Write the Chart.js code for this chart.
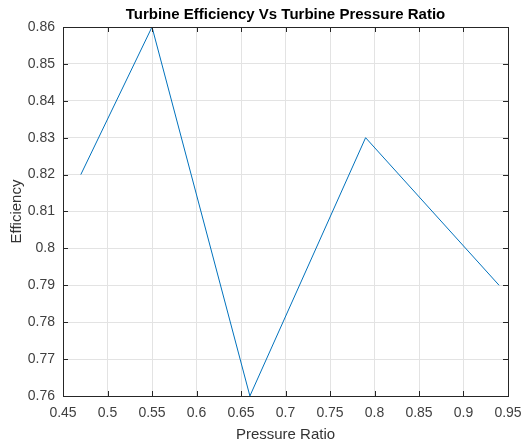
<!DOCTYPE html>
<html>
<head>
<meta charset="utf-8">
<script src="https://cdn.jsdelivr.net/npm/chart.js@4/dist/chart.umd.min.js"></script>
<style>
  html, body { margin: 0; padding: 0; background: #fff; }
  #wrap { width: 527px; height: 445px; }
</style>
</head>
<body>
<div id="wrap"><canvas id="c" width="527" height="445"></canvas></div>
<script>
// Measured turbine performance
const pressureRatio = [0.47, 0.55, 0.66, 0.79, 0.94];
const efficiency    = [0.82, 0.86, 0.76, 0.83, 0.79];

// Axis ranges and tick spacing
const xRange = [0.45, 0.95];
const xStep = 0.05;
const yRange = [0.76, 0.86];
const yStep = 0.01;

const titleText = 'Turbine Efficiency Vs Turbine Pressure Ratio';
const xLabel = 'Pressure Ratio';
const yLabel = 'Efficiency';

const FONT = "'Liberation Sans', Arial, Helvetica, sans-serif";
const AXIS_COLOR = '#262626';
const TICK_LEN = 5;

const fmt = v => String(parseFloat(Number(v).toFixed(2)));

// Boxed axes with inward tick marks on all four sides, title centred over the plot box
const boxAxes = {
  id: 'boxAxes',
  afterDraw(chart) {
    const { ctx, chartArea: a, scales } = chart;
    ctx.save();
    ctx.strokeStyle = AXIS_COLOR;
    ctx.lineWidth = 1;
    ctx.beginPath();
    scales.x.ticks.forEach(t => {
      const px = Math.round(scales.x.getPixelForValue(t.value)) + 0.5;
      ctx.moveTo(px, a.bottom); ctx.lineTo(px, a.bottom - TICK_LEN);
      ctx.moveTo(px, a.top); ctx.lineTo(px, a.top + TICK_LEN);
    });
    scales.y.ticks.forEach(t => {
      const py = Math.round(scales.y.getPixelForValue(t.value)) + 0.5;
      ctx.moveTo(a.left, py); ctx.lineTo(a.left + TICK_LEN, py);
      ctx.moveTo(a.right, py); ctx.lineTo(a.right - TICK_LEN, py);
    });
    ctx.stroke();
    ctx.strokeRect(Math.round(a.left) + 0.5, Math.round(a.top) + 0.5,
                   Math.round(a.right - a.left), Math.round(a.bottom - a.top));

    ctx.fillStyle = '#000';
    ctx.font = 'bold 15px ' + FONT;
    ctx.textAlign = 'center';
    ctx.textBaseline = 'middle';
    ctx.fillText(titleText, (a.left + a.right) / 2, 15);
    ctx.restore();
  }
};

new Chart(document.getElementById('c'), {
  type: 'line',
  data: {
    datasets: [{
      data: pressureRatio.map((x, i) => ({ x, y: efficiency[i] })),
      borderColor: '#0072BD',
      borderWidth: 1,
      pointRadius: 0,
      tension: 0,
      fill: false,
      clip: false
    }]
  },
  options: {
    responsive: false,
    animation: false,
    devicePixelRatio: 1,
    layout: { padding: { left: 0, right: 19, top: 27, bottom: 0 } },
    plugins: {
      legend: { display: false },
      tooltip: { enabled: false },
      title: { display: false }
    },
    scales: {
      x: {
        type: 'linear',
        min: xRange[0], max: xRange[1],
        afterFit(s) { s.height = 49; s.paddingRight = 0; },
        ticks: {
          stepSize: xStep,
          color: '#404040',
          font: { family: FONT, size: 14 },
          padding: 9,
          maxRotation: 0,
          autoSkip: false,
          callback: v => fmt(v)
        },
        grid: { color: '#e3e3e3', drawTicks: false },
        border: { display: false },
        title: {
          display: true, text: xLabel, color: '#333',
          font: { family: FONT, size: 15 },
          padding: { top: 2, bottom: 1 }
        }
      },
      y: {
        type: 'linear',
        min: yRange[0], max: yRange[1],
        afterFit(s) { s.width = 63; s.paddingTop = 0; s.paddingBottom = 0; },
        ticks: {
          stepSize: yStep,
          color: '#404040',
          font: { family: FONT, size: 14 },
          padding: 8,
          autoSkip: false,
          callback: v => fmt(v)
        },
        grid: { color: '#e3e3e3', drawTicks: false },
        border: { display: false },
        title: {
          display: true, text: yLabel, color: '#333',
          font: { family: FONT, size: 15 },
          padding: { top: 8, bottom: 0 }
        }
      }
    }
  },
  plugins: [boxAxes]
});
</script>
</body>
</html>
